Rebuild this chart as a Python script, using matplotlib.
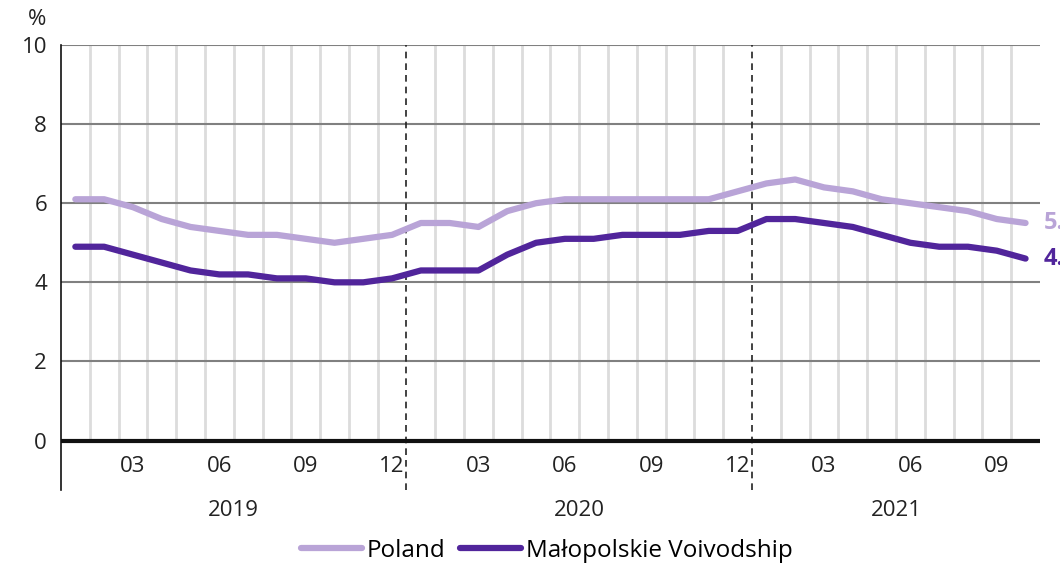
import matplotlib
matplotlib.use("Agg")
import matplotlib.pyplot as plt

plt.rcParams['font.family'] = ['Open Sans', 'DejaVu Sans']

# monthly data, 2019-01 .. 2021-10
months = ['01', '02', '03', '04', '05', '06', '07', '08', '09', '10', '11', '12'] * 2 + \
         ['01', '02', '03', '04', '05', '06', '07', '08', '09', '10']
years = ['2019', '2020', '2021']
poland = [6.1, 6.1, 5.9, 5.6, 5.4, 5.3, 5.2, 5.2, 5.1, 5.0, 5.1, 5.2,
          5.5, 5.5, 5.4, 5.8, 6.0, 6.1, 6.1, 6.1, 6.1, 6.1, 6.1, 6.3,
          6.5, 6.6, 6.4, 6.3, 6.1, 6.0, 5.9, 5.8, 5.6, 5.5]
malopolskie = [4.9, 4.9, 4.7, 4.5, 4.3, 4.2, 4.2, 4.1, 4.1, 4.0, 4.0, 4.1,
               4.3, 4.3, 4.3, 4.7, 5.0, 5.1, 5.1, 5.2, 5.2, 5.2, 5.3, 5.3,
               5.6, 5.6, 5.5, 5.4, 5.2, 5.0, 4.9, 4.9, 4.8, 4.6]
shown_months = ['03', '06', '09', '12']

c_pl = '#b9a4d7'
c_ma = '#51259b'

fig = plt.figure(figsize=(10.6, 5.65), dpi=100)
ax = fig.add_axes([0.0575, 0.1327, 0.9236, 0.7877])
n = len(poland)
x = list(range(n))
ax.set_xlim(-0.5, n - 0.5)
ax.set_ylim(-1.25, 10)

# month separators, dashed at year change
for k in range(1, n):
    if k % 12 == 0:
        ax.plot([k - 0.5, k - 0.5], [-1.25, 10], color='#222222', lw=1.2,
                ls=(0, (4, 3)), zorder=2)
    else:
        ax.plot([k - 0.5, k - 0.5], [0, 10], color='#dcdcdc', lw=2, zorder=1)

for yv in [2, 4, 6, 8, 10]:
    ax.axhline(yv, color='#808080', lw=1.5, zorder=1.5)
ax.axhline(0, color='#111111', lw=3, zorder=3)

ax.plot(x, poland, color=c_pl, lw=4.5, solid_capstyle='round', label='Poland', zorder=4)
ax.plot(x, malopolskie, color=c_ma, lw=4.5, solid_capstyle='round',
        label='Małopolskie Voivodship', zorder=5)

# end values (cut by the right edge, as in the original)
ax.text(n - 0.38, poland[-1], '%.1f' % poland[-1], color=c_pl, fontsize=17,
        fontweight='bold', va='center', ha='left', clip_on=False)
ax.text(n - 0.38, malopolskie[-1], '%.1f' % malopolskie[-1], color=c_ma, fontsize=17,
        fontweight='bold', va='center', ha='left', clip_on=False)

# month and year labels
for i, m in enumerate(months):
    if m in shown_months:
        ax.text(i, -0.65, m, ha='center', va='center', fontsize=16, color='#222222')
start = 0
for yr in years:
    cnt = 12 if yr != '2021' else n - 24
    ax.text(start + (cnt - 1) / 2, -1.78, yr, ha='center', va='center', fontsize=16,
            color='#222222', clip_on=False)
    start += cnt

ax.set_xticks([])
ax.set_yticks([0, 2, 4, 6, 8, 10])
ax.tick_params(axis='y', length=0, labelsize=16, pad=10, labelcolor='#222222')
for s in ['top', 'right', 'bottom']:
    ax.spines[s].set_visible(False)
ax.spines['left'].set_color('#111111')
ax.spines['left'].set_linewidth(1.2)
fig.text(0.035, 0.965, '%', fontsize=16, ha='center', va='center', color='#222222')

fig.legend(loc='lower center', bbox_to_anchor=(0.516, -0.035), ncol=2, frameon=False,
           fontsize=17.5, handlelength=2.5, handletextpad=0.2, columnspacing=0.6)

fig.savefig('out.png', dpi=100)
